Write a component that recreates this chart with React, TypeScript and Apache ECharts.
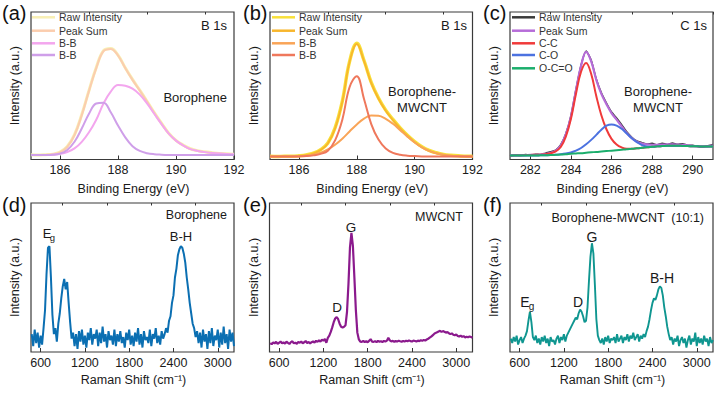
import React, { useEffect, useRef } from "react";
import * as echarts from "echarts";

const FONT = '"Liberation Sans", Arial, Helvetica, sans-serif';

// ---------- XPS data ----------
const energyB = [185, 185.25, 185.5, 185.75, 186, 186.25, 186.5, 186.75, 187, 187.25, 187.5, 187.75, 188, 188.25, 188.5, 188.75, 189, 189.25, 189.5, 189.75, 190, 190.25, 190.5, 190.75, 191, 191.25, 191.5, 191.75, 192];
const energyC = [281, 281.25, 281.5, 281.75, 282, 282.25, 282.5, 282.75, 283, 283.25, 283.5, 283.75, 284, 284.25, 284.5, 284.75, 285, 285.25, 285.5, 285.75, 286, 286.25, 286.5, 286.75, 287, 287.25, 287.5, 287.75, 288, 288.25, 288.5, 288.75, 289, 289.25, 289.5, 289.75, 290, 290.25, 290.5, 290.75, 291];

// (a) Borophene B 1s
const aRaw = [3.2, 3.0, 3.3, 3.6, 5, 8.8, 16.8, 30.5, 46.8, 62.4, 73.8, 75.3, 70.8, 62.2, 54.3, 47, 39.5, 31.8, 24.6, 17.8, 13, 9.8, 7.3, 6, 5.2, 4.6, 4.1, 3.9, 3.6];
const aSum = [3, 3, 3.1, 3.5, 4.8, 8.5, 16.5, 30, 46.5, 62, 73.5, 75, 70.5, 62, 54, 46.8, 39.3, 31.6, 24.3, 17.6, 12.8, 9.5, 7, 5.8, 5, 4.4, 4, 3.7, 3.5];
const aBB1 = [3, 3, 3.1, 3.3, 3.8, 5, 7.5, 12, 18.5, 27, 38, 46, 50.5, 50, 48, 44, 38, 31, 24, 17.5, 12.8, 9.5, 7, 5.8, 5, 4.4, 4, 3.7, 3.5];
const aBB2 = [3, 3, 3, 3.2, 4, 6.5, 12, 21, 31, 38, 38.5, 32, 23, 15, 9, 5.8, 4.3, 3.6, 3.3, 3.1, 3, 3, 3, 3, 3, 3, 3, 3, 3];

// (b) Borophene-MWCNT B 1s
const bRaw = [2.2, 2.0, 2.3, 2.2, 2.5, 3.1, 4.3, 6.7, 11.2, 21.5, 39.6, 66.4, 78.8, 67.1, 52.3, 41.7, 33.5, 27.2, 21.5, 16.5, 12.2, 8.7, 6.2, 4.6, 3.5, 2.9, 2.5, 2.3, 2.2];
const bSum = [2, 2, 2.04, 2.1, 2.36, 2.9, 4.1, 6.4, 10.8, 21, 39.1, 66, 78.3, 66.7, 51.8, 41.2, 33.1, 26.7, 21.1, 16.1, 11.8, 8.3, 5.8, 4.2, 3.2, 2.6, 2.3, 2.1, 2.05];
const bBB1 = [2, 2, 2.04, 2.1, 2.26, 2.6, 3.3, 4.6, 6.8, 10, 14.1, 19, 23.8, 27.7, 29.8, 29.7, 27.6, 24.2, 19.9, 15.5, 11.5, 8.2, 5.8, 4.2, 3.2, 2.6, 2.3, 2.1, 2.05];
const bBB2 = [2, 2, 2, 2, 2.1, 2.3, 2.8, 3.8, 6, 13, 27, 49, 56.5, 41, 24, 13.5, 7.5, 4.5, 3.2, 2.6, 2.3, 2.1, 2, 2, 2, 2, 2, 2, 2];

// (c) Borophene-MWCNT C 1s
const cRaw = [2.4, 3.1, 2.7, 3.4, 2.9, 3.6, 3.3, 4.3, 5.2, 6.3, 10, 17.4, 29.6, 47.6, 64, 73.6, 67.2, 54.6, 45.2, 38.3, 32.2, 28.1, 23.6, 18.8, 15.1, 12.5, 11.4, 10.4, 10.9, 9.9, 11.0, 10.2, 11.2, 10.3, 10.7, 9.7, 9.6, 8.9, 8.5, 9.3, 10.2];
const cSum = [2.7, 2.8, 2.9, 3.0, 3.1, 3.2, 3.4, 3.8, 4.5, 6.0, 9.5, 17, 29, 47, 63.5, 73, 66.5, 54, 44.5, 37.5, 31.5, 27, 22.5, 18, 14.5, 12, 10.8, 10.2, 10.0, 10.0, 10.1, 10.2, 10.2, 10.1, 9.9, 9.6, 9.2, 8.9, 8.8, 9.0, 9.4];
const cCC = [2.7, 2.8, 2.9, 3.0, 3.1, 3.2, 3.3, 3.6, 4.2, 5.5, 8.5, 15.5, 27.5, 44.5, 59.5, 65.5, 58, 43, 30, 20.5, 14, 10.2, 8.2, 7.3, 7.3, 7.6, 7.9, 8.3, 8.6, 8.9, 9.1, 9.3, 9.3, 9.3, 9.2, 9.1, 9.0, 8.9, 8.8, 8.8, 8.8];
const cCO = [2.7, 2.7, 2.7, 2.7, 2.7, 2.7, 2.8, 2.9, 3.0, 3.2, 3.5, 4.0, 4.8, 6.0, 7.8, 10.3, 13.3, 16.7, 20.2, 22.9, 23.8, 23.0, 20.8, 17.6, 14.4, 11.8, 9.8, 8.8, 8.6, 8.9, 9.1, 9.3, 9.3, 9.3, 9.2, 9.1, 9.0, 8.9, 8.8, 8.8, 8.8];
const cOCO = [2.7, 2.7, 2.7, 2.7, 2.7, 2.7, 2.8, 2.9, 3.0, 3.2, 3.4, 3.6, 3.9, 4.1, 4.3, 4.6, 4.9, 5.1, 5.4, 5.7, 6.0, 6.3, 6.6, 6.9, 7.3, 7.6, 7.9, 8.3, 8.6, 8.9, 9.1, 9.3, 9.3, 9.3, 9.2, 9.1, 9.0, 8.9, 8.8, 8.8, 8.8];

// ---------- Raman data (480 ... 3220 cm-1, every 20 cm-1) ----------
const ramanShift = Array.from({ length: 138 }, (_, i) => 480 + 20 * i);

const dBorophene = [
  12, 4, 15, 6, 13, 3, 11, 5, 16, 28,
  52, 70, 71, 50, 25, 12, 16, 7, 19, 26,
  36, 44, 49, 42, 47, 33, 20, 9, 13, 4,
  12, 2, 14, 7, 15, 5, 11, 3, 13, 8,
  16, 5, 12, 9, 15, 4, 13, 6, 17, 7,
  12, 3, 14, 8, 11, 5, 15, 4, 12, 7,
  14, 6, 10, 3, 13, 8, 15, 5, 11, 4,
  13, 7, 16, 5, 12, 3, 14, 8, 10, 6,
  15, 4, 12, 9, 16, 6, 11, 5, 14, 9,
  12, 16, 13, 21, 24, 33, 38, 50, 56, 65,
  69, 71, 70, 66, 60, 50, 42, 33, 26, 19,
  16, 10, 14, 6, 13, 3, 15, 7, 12, 2,
  14, 6, 16, 4, 11, 8, 15, 3, 13, 5,
  17, 6, 12, 2, 15, 7, 13, 4,
];

const eMWCNT = [
  6.0, 5.2, 6.5, 5.8, 6.8, 5.5, 6.2, 7.0, 5.9, 6.4,
  5.6, 6.9, 6.1, 5.4, 6.6, 7.2, 5.8, 6.3, 5.5, 6.8,
  6.2, 7.0, 5.9, 6.5, 7.4, 6.0, 6.8, 5.7, 6.6, 7.1,
  6.3, 7.5, 6.8, 7.9, 7.0, 8.2, 7.6, 8.8, 6.2, 9.5,
  11, 13.5, 16.5, 20, 22.5, 23.5, 22, 19, 17, 16.5,
  17, 18, 27, 46, 70, 80, 71, 50, 28, 13,
  8.5, 7.0, 6.8, 7.4, 6.6, 7.2, 6.5, 7.6, 8.6, 7.0,
  6.8, 7.3, 6.6, 7.5, 6.9, 7.2, 6.7, 7.4, 7.0, 7.6,
  9.5, 7.8, 7.1, 7.5, 6.9, 7.3, 7.0, 7.6, 7.2, 6.9,
  7.4, 7.0, 7.6, 7.2, 7.8, 7.3, 7.0, 7.7, 7.4, 7.1,
  7.6, 7.3, 7.9, 7.5, 8.1, 7.7, 8.4, 8.9, 9.6, 10.3,
  11.2, 12.1, 12.8, 13.2, 13.8, 14.2, 13.5, 14.0, 13.6, 13.0,
  13.4, 12.6, 12.0, 12.5, 11.6, 11.2, 11.8, 10.8, 10.4, 11.0,
  10.2, 10.6, 9.8, 10.3, 9.9, 10.4, 10.0, 9.6,
];

const fComposite = [
  9, 6, 10, 7, 11, 5, 8, 10, 6, 9,
  11, 14, 21, 27, 20, 10, 8, 11, 6, 9,
  5, 10, 7, 11, 6, 9, 4, 10, 7, 8,
  5, 9, 11, 6, 10, 8, 12, 7, 11, 13,
  15, 17, 19, 21, 23, 22, 26, 28.5, 27, 24,
  20, 21, 30, 48, 64, 73, 66, 45, 22, 11,
  8, 6, 9, 5, 10, 7, 11, 6, 9, 8,
  10, 6, 12, 7, 9, 11, 6, 10, 8, 12,
  7, 11, 9, 13, 8, 10, 12, 7, 11, 9,
  12, 10, 14, 17, 22, 28, 33, 36, 35, 38,
  42, 44, 43, 38, 30, 24, 17, 12, 8, 10,
  5, 9, 7, 11, 4, 8, 10, 6, 9, 3,
  8, 11, 5, 9, 7, 13, 4, 10, 6, 9,
  5, 11, 7, 9, 4, 10, 6, 8,
];

// tick values
const xpsTicksAB = [186, 188, 190, 192];
const xpsMinorAB = [187, 189, 191];
const xpsTicksC = [282, 284, 286, 288, 290];
const xpsMinorC = [283, 285, 287, 289, 291];
const ramanTicks = [600, 1200, 1800, 2400, 3000];
const ramanMinor = [900, 1500, 2100, 2700];

const pairs = (xs: number[], ys: number[]) => xs.map((x, i) => [x, ys[i]]);

export default function App() {
  const ref = useRef<HTMLDivElement>(null);
  useEffect(() => {
    const chart = echarts.init(ref.current!, null, { renderer: "svg" });

    const grids = [
      { left: 31, top: 12, width: 203, height: 147.5 },
      { left: 270, top: 12, width: 202.5, height: 147.5 },
      { left: 510, top: 12, width: 203, height: 147.5 },
      { left: 31, top: 203, width: 203, height: 149 },
      { left: 269.5, top: 203, width: 203, height: 149 },
      { left: 510, top: 203, width: 203, height: 149 },
    ].map((g) => ({ ...g, show: true, borderColor: "#3a3a3a", borderWidth: 1.2, backgroundColor: "transparent" }));

    const ranges = [
      [185, 192, xpsTicksAB, xpsMinorAB],
      [185, 192, xpsTicksAB, xpsMinorAB],
      [281, 291, xpsTicksC, xpsMinorC],
      [470, 3220, ramanTicks, ramanMinor],
      [470, 3220, ramanTicks, ramanMinor],
      [470, 3220, ramanTicks, ramanMinor],
    ] as any[];

    const xAxes: any[] = [];
    ranges.forEach((r, i) => {
      xAxes.push({
        type: "value", gridIndex: i, min: r[0], max: r[1],
        axisLine: { show: false }, splitLine: { show: false },
        axisTick: { show: true, inside: true, length: 4, customValues: r[2], lineStyle: { color: "#333", width: 1 } },
        axisLabel: {
          show: true, customValues: r[2], margin: 4, fontSize: 12.5, color: "#1a1a1a", fontFamily: FONT,
          formatter: (v: number) => String(v),
        },
      });
    });
    ranges.forEach((r, i) => {
      xAxes.push({
        type: "value", gridIndex: i, min: r[0], max: r[1],
        axisLine: { show: false }, splitLine: { show: false },
        axisTick: { show: true, inside: true, length: 2.5, customValues: r[3], lineStyle: { color: "#333", width: 1 } },
        axisLabel: { show: false },
      });
    });
    const yAxes = grids.map((_, i) => ({ type: "value", gridIndex: i, min: 0, max: 100, show: false }));

    const line = (gi: number, xs: number[], ys: number[], color: string, width: number, smooth: any = 0.4) => ({
      type: "line", xAxisIndex: gi, yAxisIndex: gi, data: pairs(xs, ys), showSymbol: false, symbol: "none",
      smooth, silent: true, lineStyle: { color, width }, itemStyle: { color },
    });

    const series = [
      line(0, energyB, aRaw, "#f8efb4", 3),
      line(0, energyB, aSum, "#fbcdae", 2),
      line(0, energyB, aBB1, "#f3a6ee", 2),
      line(0, energyB, aBB2, "#cf9fe9", 2),

      line(1, energyB, bRaw, "#f8e03a", 3.4),
      line(1, energyB, bSum, "#f8b62c", 1.8),
      line(1, energyB, bBB1, "#f9a457", 2),
      line(1, energyB, bBB2, "#ef785c", 2),

      line(2, energyC, cRaw, "#3a3a3a", 1.6, 0.2),
      line(2, energyC, cSum, "#b66cd8", 2.2),
      line(2, energyC, cCC, "#f03a3a", 2),
      line(2, energyC, cCO, "#4c72e0", 2),
      line(2, energyC, cOCO, "#1bae6c", 2),

      line(3, ramanShift, dBorophene, "#0b6fb2", 2, false),
      line(4, ramanShift, eMWCNT, "#8b1a8d", 2.2, false),
      line(5, ramanShift, fComposite, "#0f9690", 1.9, false),
    ];

    const txt = (text: string, x: number, y: number, size: number, align = "center", color = "#1a1a1a", extra: any = {}) => ({
      type: "text", x, y, silent: true, ...extra,
      style: { text, fill: color, fontSize: size, fontFamily: FONT, textAlign: align, textVerticalAlign: "middle" },
    });
    const legLine = (x1: number, x2: number, y: number, color: string) => ({
      type: "line", silent: true, shape: { x1, y1: y, x2, y2: y }, style: { stroke: color, lineWidth: 2.5 },
    });

    const legendRows = [17.3, 30.7, 43.3, 55, 68.3];
    const legend = (x0: number, items: [string, string][]) => {
      const out: any[] = [];
      items.forEach(([name, color], i) => {
        out.push(legLine(x0, x0 + 23, legendRows[i], color));
        out.push(txt(name, x0 + 27, legendRows[i], 10.5, "left", "#333"));
      });
      return out;
    };

    const xNameY = [189, 189, 189, 380, 380, 380];
    const graphics: any[] = [
      txt("(a)", 2, 13, 20, "left", "#111"),
      txt("(b)", 243, 13, 20, "left", "#111"),
      txt("(c)", 483, 13, 20, "left", "#111"),
      txt("(d)", 2, 205, 20, "left", "#111"),
      txt("(e)", 243, 205, 20, "left", "#111"),
      txt("(f)", 483, 205, 20, "left", "#111"),

      ...legend(32, [["Raw Intensity", "#f8efb4"], ["Peak Sum", "#fbcdae"], ["B-B", "#f3a6ee"], ["B-B", "#cf9fe9"]]),
      ...legend(272, [["Raw Intensity", "#f8e03a"], ["Peak Sum", "#f8b62c"], ["B-B", "#f9a457"], ["B-B", "#ef785c"]]),
      ...legend(512, [["Raw Intensity", "#3a3a3a"], ["Peak Sum", "#b66cd8"], ["C-C", "#f03a3a"], ["C-O", "#4c72e0"], ["O-C=O", "#1bae6c"]]),

      txt("B 1s", 227, 25, 13, "right"),
      txt("Borophene", 227, 97, 13, "right"),
      txt("B 1s", 467, 25, 13, "right"),
      txt("Borophene-", 422, 91, 13, "center"),
      txt("MWCNT", 422, 107, 13, "center"),
      txt("C 1s", 707, 25, 13, "right"),
      txt("Borophene-", 658, 91, 13, "center"),
      txt("MWCNT", 658, 107, 13, "center"),

      txt("Borophene", 227, 215, 12.5, "right"),
      txt("E", 47, 233, 13, "center"),
      txt("g", 52.5, 237, 9.5, "center"),
      txt("B-H", 181, 236, 13, "center"),

      txt("MWCNT", 463, 217, 12.5, "right"),
      txt("G", 351, 227, 13.5, "center"),
      txt("D", 337, 307, 13.5, "center"),

      txt("Borophene-MWCNT  (10:1)", 704, 218, 12.5, "right"),
      txt("G", 592, 237, 14, "center"),
      txt("B-H", 662, 278, 14, "center"),
      txt("E", 525, 302, 14, "center"),
      txt("g", 531.5, 306, 10, "center"),
      txt("D", 578, 302, 14, "center"),
    ];
    grids.forEach((g, i) => {
      const cx = g.left + g.width / 2 + 1;
      const isTop = i < 3;
      graphics.push(txt(isTop ? "Binding Energy (eV)" : "Raman Shift (cm\u207B\u00B9)", cx, xNameY[i], 12.5, "center", "#1a1a1a"));
      graphics.push(txt("Intensity (a.u.)", g.left - 16, g.top + g.height / 2, 12.5, "center", "#1a1a1a", { rotation: Math.PI / 2 }));
    });

    chart.setOption({
      animation: false,
      backgroundColor: "#ffffff",
      textStyle: { fontFamily: FONT },
      grid: grids,
      xAxis: xAxes,
      yAxis: yAxes,
      series,
      graphic: graphics,
    });
    return () => chart.dispose();
  }, []);
  return <div ref={ref} style={{ position: "absolute", left: 0, top: 0, width: 719, height: 394 }} />;
}
